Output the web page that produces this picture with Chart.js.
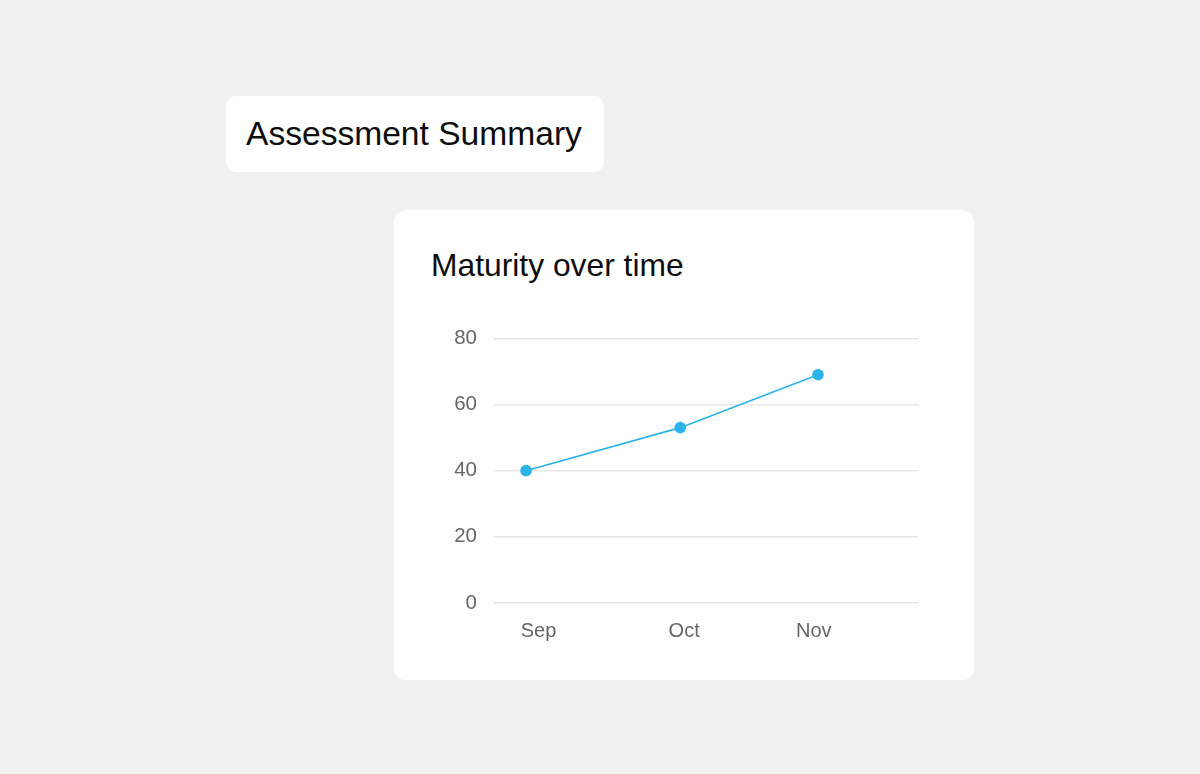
<!DOCTYPE html>
<html>
<head>
<meta charset="utf-8">
<script src="https://cdn.jsdelivr.net/npm/chart.js@4.4.1/dist/chart.umd.min.js"></script>
<style>
  html, body { margin:0; padding:0; }
  body {
    width:1200px; height:774px; background:#f1f1ef;
    position:relative; overflow:hidden;
    font-family:"Liberation Sans", Arial, sans-serif;
  }
  .tag {
    position:absolute; left:226px; top:96px; width:378px; height:76px;
    background:#fff; border-radius:10px; box-sizing:border-box;
    padding-left:20px; line-height:76px; font-size:33.6px; color:#0d0d0d;
  }
  .card {
    position:absolute; left:394px; top:210px; width:580px; height:470px;
    background:#fff; border-radius:12px;
  }
  .card h2 {
    position:absolute; left:37px; top:35px; margin:0;
    font-size:31.8px; font-weight:normal; color:#0d0d0d; line-height:40px;
  }
  .plot { position:absolute; left:46px; top:99px; width:485px; height:348px; }
</style>
</head>
<body>
<div class="tag">Assessment Summary</div>
<div class="card">
  <h2>Maturity over time</h2>
  <div class="plot"><canvas id="maturityChart" width="485" height="348"></canvas></div>
</div>
<script>
// assessment positions on the time axis (0-100) and their scores
const assessmentX = [7.55, 43.87, 76.34];
const maturity = [40, 53, 69];

// month labels and where they sit on the time axis
const months = ["Sep", "Oct", "Nov"];
const monthTicks = [10.5, 44.8, 75.35];

const yTicks = [0, 20, 40, 60, 80];

const points = assessmentX.map((x, i) => ({ x: x, y: maturity[i] }));

new Chart(document.getElementById("maturityChart"), {
  type: "line",
  data: {
    datasets: [{
      data: points,
      borderColor: "#2ab4e9",
      backgroundColor: "#2ab4e9",
      borderWidth: 1.6,
      pointRadius: 5,
      pointHoverRadius: 5,
      tension: 0
    }]
  },
  options: {
    responsive: false,
    animation: false,
    layout: { padding: { top: 20, right: 0, bottom: 0, left: 0 } },
    plugins: { legend: { display: false }, tooltip: { enabled: false } },
    scales: {
      x: {
        type: "linear",
        min: 0,
        max: 100,
        grid: { display: false, drawTicks: false },
        border: { display: false },
        afterBuildTicks: (scale) => { scale.ticks = monthTicks.map(v => ({ value: v })); },
        afterFit: (scale) => { scale.height = 54; },
        ticks: {
          autoSkip: false,
          maxRotation: 0,
          padding: 16,
          color: "#666",
          font: { family: "Liberation Sans", size: 20 },
          callback: (v, i) => months[i]
        }
      },
      y: {
        min: 0,
        max: 80,
        grid: { color: "#e8e8e8", lineWidth: 1.5, drawTicks: false },
        border: { display: false },
        afterBuildTicks: (scale) => { scale.ticks = yTicks.map(v => ({ value: v })); },
        afterFit: (scale) => { scale.width = 54; },
        ticks: {
          padding: 17,
          color: "#666",
          font: { family: "Liberation Sans", size: 20.5 }
        }
      }
    }
  }
});
</script>
</body>
</html>
